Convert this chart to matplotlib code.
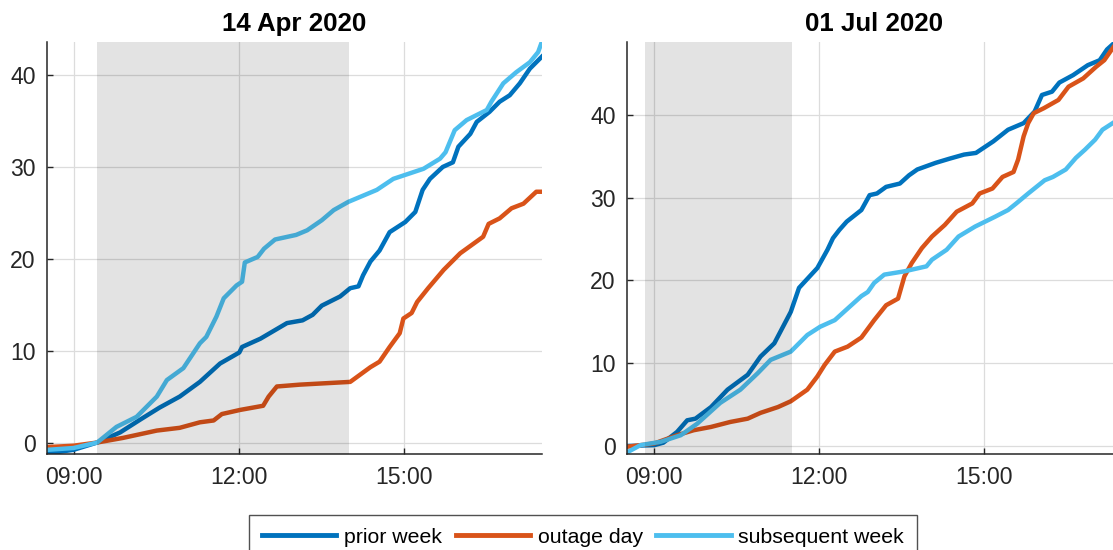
import numpy as np
import matplotlib
matplotlib.use('Agg')
import matplotlib.pyplot as plt

plt.rcParams['font.family'] = ['Liberation Sans', 'DejaVu Sans']

# ---- data ----
titles = ['14 Apr 2020', '01 Jul 2020']
series_names = ['prior week', 'outage day', 'subsequent week']
shade = [('09:25', '14:00'), ('08:50', '11:30')]

# 14 Apr 2020
apr_prior_t = ['08:30', '08:59', '09:25', '09:50', '10:12', '10:33', '10:55', '11:17', '11:39',
               '12:00', '12:03', '12:23', '12:52', '13:09', '13:20', '13:30', '13:50', '14:01',
               '14:10', '14:15', '14:23', '14:33', '14:44', '15:01', '15:12', '15:20', '15:28',
               '15:42', '15:53', '15:59', '16:12', '16:19', '16:33', '16:44', '16:55', '17:06',
               '17:17', '17:30']
apr_prior_v = [-1.2, -0.8, 0.0, 1.1, 2.5, 3.8, 5.0, 6.6, 8.6,
               9.8, 10.4, 11.3, 13.0, 13.3, 13.9, 14.9, 15.9, 16.8,
               17.0, 18.2, 19.7, 20.9, 22.9, 24.0, 25.1, 27.5, 28.7,
               30.0, 30.5, 32.2, 33.6, 34.9, 36.0, 37.1, 37.8, 39.1,
               40.7, 42.0]

apr_outage_t = ['08:30', '08:59', '09:25', '09:53', '10:30', '10:55', '11:17', '11:32', '11:41',
                '12:01', '12:26', '12:32', '12:41', '13:06', '14:01', '14:23', '14:33', '14:44',
                '14:55', '14:59', '15:08', '15:14', '15:26', '15:43', '16:01', '16:26', '16:32',
                '16:44', '16:57', '17:10', '17:24', '17:30']
apr_outage_v = [-0.5, -0.35, 0.0, 0.5, 1.3, 1.6, 2.2, 2.4, 3.1,
                3.55, 4.0, 5.0, 6.1, 6.3, 6.6, 8.2, 8.8, 10.4,
                11.9, 13.5, 14.1, 15.3, 16.8, 18.8, 20.6, 22.4, 23.8,
                24.4, 25.5, 26.0, 27.3, 27.3]

apr_subseq_t = ['08:30', '08:59', '09:25', '09:46', '10:08', '10:30', '10:41', '10:59', '11:17',
                '11:24', '11:35', '11:43', '11:57', '12:03', '12:06', '12:20', '12:27', '12:39',
                '13:02', '13:14', '13:30', '13:43', '13:59', '14:30', '14:48', '15:21', '15:39',
                '15:45', '15:55', '16:08', '16:30', '16:35', '16:48', '17:02', '17:17', '17:26',
                '17:30']
apr_subseq_v = [-0.8, -0.6, 0.0, 1.7, 2.8, 5.0, 6.8, 8.1, 10.8,
                11.5, 13.7, 15.7, 17.1, 17.5, 19.6, 20.2, 21.1, 22.1,
                22.6, 23.1, 24.2, 25.3, 26.2, 27.5, 28.7, 29.8, 30.9,
                31.6, 34.0, 35.1, 36.2, 37.1, 39.1, 40.3, 41.4, 42.5,
                43.6]

# 01 Jul 2020
jul_prior_t = ['08:30', '09:00', '09:10', '09:25', '09:36', '09:45', '10:02', '10:20', '10:42',
               '10:56', '11:11', '11:29', '11:38', '11:58', '12:09', '12:15', '12:22', '12:30',
               '12:46', '12:55', '13:03', '13:13', '13:28', '13:38', '13:47', '14:07', '14:22',
               '14:38', '14:51', '15:10', '15:26', '15:43', '15:55', '16:03', '16:14', '16:22',
               '16:37', '16:53', '17:06', '17:14', '17:23']
jul_prior_v = [0.0, 0.1, 0.4, 1.7, 3.1, 3.3, 4.7, 6.8, 8.6,
               10.8, 12.4, 16.2, 19.1, 21.5, 23.7, 25.1, 26.1, 27.1,
               28.5, 30.3, 30.5, 31.3, 31.7, 32.7, 33.4, 34.2, 34.7,
               35.2, 35.4, 36.8, 38.2, 39.0, 40.4, 42.4, 42.8, 43.9,
               44.8, 46.0, 46.6, 47.9, 48.8]

jul_outage_t = ['08:30', '09:00', '09:25', '09:43', '10:02', '10:23', '10:42', '10:56', '11:15',
                '11:29', '11:47', '11:58', '12:06', '12:17', '12:31', '12:46', '13:00', '13:13',
                '13:26', '13:33', '13:41', '13:52', '14:03', '14:17', '14:30', '14:47', '14:55',
                '15:09', '15:20', '15:32', '15:37', '15:43', '15:48', '15:54', '16:05', '16:21',
                '16:32', '16:48', '17:02', '17:11', '17:23']
jul_outage_v = [-0.1, 0.3, 1.3, 1.9, 2.3, 2.9, 3.3, 4.0, 4.7,
                5.4, 6.8, 8.4, 9.8, 11.4, 12.0, 13.1, 15.2, 17.0,
                17.8, 20.5, 22.1, 23.9, 25.3, 26.7, 28.3, 29.3, 30.5,
                31.1, 32.5, 33.1, 34.6, 37.4, 39.0, 40.2, 40.8, 41.8,
                43.4, 44.4, 45.8, 46.6, 48.5]

jul_subseq_t = ['08:30', '08:45', '09:07', '09:29', '09:47', '10:12', '10:34', '10:53', '11:07',
                '11:29', '11:47', '12:01', '12:17', '12:31', '12:46', '12:53', '13:00', '13:11',
                '13:33', '13:57', '14:03', '14:19', '14:32', '14:50', '15:12', '15:26', '15:35',
                '15:48', '16:06', '16:15', '16:29', '16:40', '16:50', '17:01', '17:09', '17:23']
jul_subseq_v = [-0.8, 0.1, 0.5, 1.3, 2.7, 5.2, 6.8, 8.8, 10.4,
                11.4, 13.4, 14.4, 15.2, 16.6, 18.1, 18.6, 19.7, 20.7,
                21.1, 21.7, 22.5, 23.7, 25.3, 26.5, 27.7, 28.5, 29.3,
                30.5, 32.1, 32.5, 33.4, 34.8, 35.8, 37.0, 38.2, 39.2]

ylims = [(-1.25, 43.6), (-0.97, 48.8)]
xticks = ['09:00', '12:00', '15:00']
yticks = [0, 10, 20, 30, 40]


def hrs(ts):
    return np.array([int(t[:2]) + int(t[3:]) / 60.0 for t in ts])


panels = [
    [(apr_prior_t, apr_prior_v), (apr_outage_t, apr_outage_v), (apr_subseq_t, apr_subseq_v)],
    [(jul_prior_t, jul_prior_v), (jul_outage_t, jul_outage_v), (jul_subseq_t, jul_subseq_v)],
]
colors = ['#0072BD', '#D95319', '#4DBEEE']
C_AX = '#262626'

fig = plt.figure(figsize=(11.13, 5.5), dpi=100)
W, H = 1113.0, 550.0
boxes = [[46.8 / W, 96 / H, 495 / W, 412 / H],
         [626.7 / W, 96 / H, 495 / W, 412 / H]]

handles = []
for k, (box, data) in enumerate(zip(boxes, panels)):
    ax = fig.add_axes(box)
    for (t, v), c in zip(data, colors):
        h, = ax.plot(hrs(t), v, color=c, lw=3.2, zorder=2, solid_joinstyle='round')
        if k == 0:
            handles.append(h)
    s0, s1 = hrs(shade[k])
    ax.axvspan(s0, s1, color='black', alpha=0.11, lw=0, zorder=3)

    ax.set_xlim(8.5, 17.5)
    ax.set_ylim(*ylims[k])
    ax.set_xticks(hrs(xticks))
    ax.set_xticklabels(xticks)
    ax.set_yticks(yticks)
    ax.grid(True, color='#dcdcdc', lw=0.9, zorder=0)
    ax.set_axisbelow(True)
    for side in ('top', 'right'):
        ax.spines[side].set_visible(False)
    for side in ('left', 'bottom'):
        ax.spines[side].set_color(C_AX)
        ax.spines[side].set_linewidth(1.1)
    ax.tick_params(direction='in', length=4, width=1.0, colors=C_AX, labelsize=16.6)
    ax.tick_params(axis='x', pad=9)
    ax.tick_params(axis='y', pad=8)
    ax.set_title(titles[k], fontsize=18.6, fontweight='bold', pad=8)

leg = fig.legend(handles, series_names, loc='upper center', ncol=3,
                 bbox_to_anchor=(583 / W, 1 - 515 / H), borderaxespad=0,
                 fontsize=15.3, handlelength=3.5, handletextpad=0.35,
                 columnspacing=0.65, borderpad=0.6, fancybox=False, frameon=True)
leg.get_frame().set_edgecolor(C_AX)
leg.get_frame().set_linewidth(1.0)
for line in leg.get_lines():
    line.set_linewidth(3.5)

fig.savefig('out.png', dpi=100)
